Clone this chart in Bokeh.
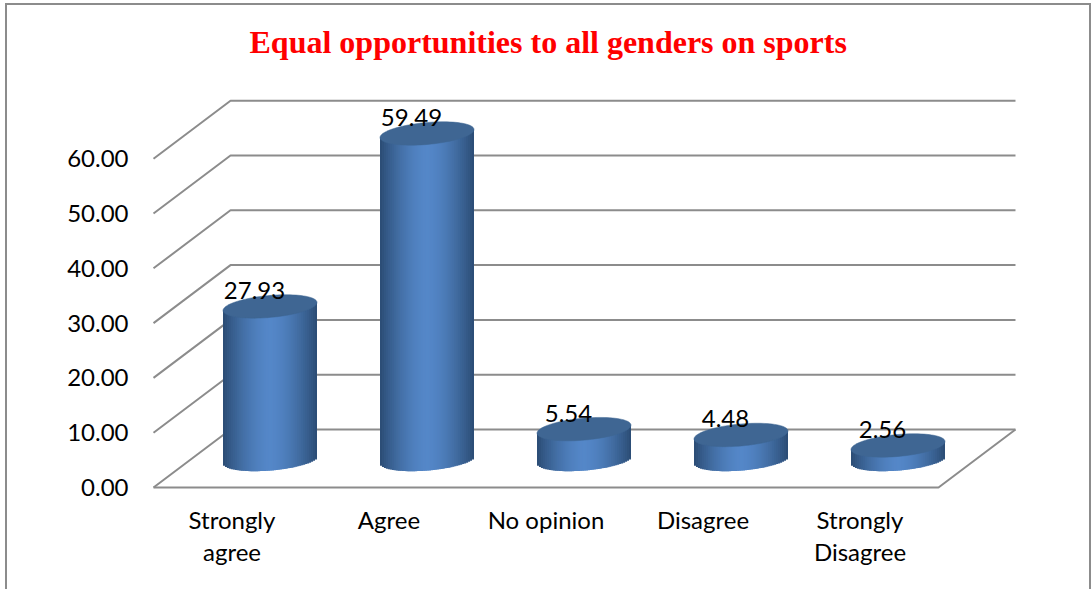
import numpy as np
from bokeh.plotting import figure
from bokeh.models import Range1d, FixedTicker, Title, NumeralTickFormatter, ColumnDataSource
from bokeh.core.properties import value
from bokeh.embed import file_html
from bokeh.resources import INLINE

TITLE = "Equal opportunities to all genders on sports"
categories = ["Strongly\nagree", "Agree", "No opinion", "Disagree", "Strongly\nDisagree"]
values = [27.93, 59.49, 5.54, 4.48, 2.56]
labels = ["27.93", "59.49", "5.54", "4.48", "2.56"]
y_ticks = [0, 10, 20, 30, 40, 50, 60]

PXX, PXY = 157.0, 5.48          # pixels per category / per value unit
DX, DY = 77 / PXX, 58 / PXY     # wall depth in data units
HALF_W, HALF_H, TILT = 47 / PXX, 11 / PXY, 4 / PXY
FONT = "Lato"
GREY = "#8c8c8c"

def bar_line(x, y, w, h):
    return f"linear-gradient({GREY},{GREY}) {x}px {y}px/{w}px {h}px no-repeat"

p = figure(width=1091, height=589, output_backend="svg", toolbar_location=None,
           x_range=Range1d(-2 / PXX, 5 + 80 / PXX), y_range=Range1d(-2 / PXY, 390 / PXY),
           min_border_left=151, min_border_right=73, min_border_top=97, min_border_bottom=100,
           outline_line_color=None, background_fill_color=None, border_fill_color=None)
p.styles = {"background": ", ".join([bar_line(5, 3, 1085, 2), bar_line(5, 3, 2, 586), bar_line(1089, 3, 2, 586)])}
p.grid.visible = False

# title, held up off the plot by a blank spacer title
p.add_layout(Title(text=" ", text_font_size="14px", standoff=19), "above")
t = Title(text=TITLE, align="left", offset=98, text_color="#ff0000", text_font="Liberation Serif",
          text_font_style="bold", text_font_size="32px", standoff=0, vertical_align="middle")
p.add_layout(t, "above")

# axes
ya = p.yaxis[0]
ya.ticker = FixedTicker(ticks=y_ticks)
ya.formatter = NumeralTickFormatter(format="0.00")
ya.axis_line_color = None
ya.major_tick_line_color = None
ya.minor_tick_line_color = None
ya.major_label_standoff = 17
ya.major_label_text_font = FONT
ya.major_label_text_font_size = "24px"
ya.major_label_text_color = "#000000"

xa = p.xaxis[0]
xs = [i + 0.5 for i in range(len(categories))]
xa.ticker = FixedTicker(ticks=xs)
xa.major_label_overrides = {x: c for x, c in zip(xs, categories)}
xa.axis_line_color = None
xa.major_tick_line_color = None
xa.minor_tick_line_color = None
xa.major_label_standoff = 9
xa.major_label_text_font = FONT
xa.major_label_text_font_size = "24px"
xa.major_label_text_color = "#000000"
xa.major_label_text_line_height = 1.13

# walls
n = len(categories)
wx, wy = [], []
for v in y_ticks:
    wx.append([0, DX, n + DX])
    wy.append([v, v + DY, v + DY])
p.multi_line(wx, wy, line_color=GREY, line_width=2)
p.line([n + DX, n, 0], [DY, 0, 0], line_color=GREY, line_width=2)

# cylinders
def strip_colour(u):
    k = 1 - abs(u) ** 1.6
    dark = np.array([0x2b, 0x4c, 0x74])
    light = np.array([0x54, 0x87, 0xc8])
    c = dark + (light - dark) * k
    return "#%02x%02x%02x" % tuple(int(round(a)) for a in c)

STRIPS = 48
BASE = DY / 2 - 1 / PXY
edges = np.linspace(-1, 1, STRIPS + 1)
step = edges[1] - edges[0]
for i, val in enumerate(values):
    cx = i + 0.5 + DX / 2 - 0.5 / PXX
    top = BASE + val
    l, r, b, tp, cols = [], [], [], [], []
    for e0, e1 in zip(edges[:-1], edges[1:]):
        m = (e0 + e1) / 2
        l.append(cx + e0 * HALF_W)
        r.append(cx + min(e1 + step, 1) * HALF_W)
        b.append(BASE + m * TILT - HALF_H * np.sqrt(1 - m * m))
        tp.append(top + m * TILT)
        cols.append(strip_colour(m))
    p.quad(left=l, right=r, bottom=b, top=tp, fill_color=cols, line_color=None)
    us = np.linspace(0, 2 * np.pi, 90)
    ex = cx + HALF_W * np.cos(us)
    ey = top + TILT * np.cos(us) + HALF_H * np.sin(us)
    p.patch(ex, ey, fill_color="#3f6693", line_color="#3f6693", line_width=0.5)

# data labels
src = ColumnDataSource(dict(x=[i + 0.5 + DX / 2 for i in range(n)],
                            y=[BASE + v for v in values], t=labels))
p.text("x", "y", text="t", source=src, x_offset=-16, y_offset=-16, text_align="center",
       text_baseline="middle", text_font=value(FONT), text_font_size="24px", text_color="#000000")

open("out.html", "w").write(file_html(p, INLINE))
